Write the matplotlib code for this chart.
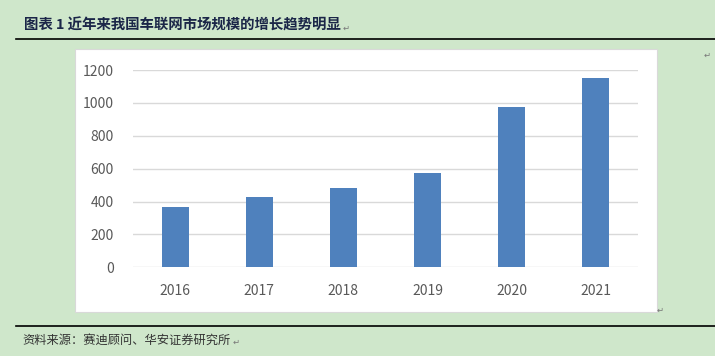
import matplotlib
matplotlib.use("Agg")
import matplotlib.pyplot as plt
from matplotlib.patches import Rectangle
from matplotlib.lines import Line2D

plt.rcParams['font.family'] = ['Noto Sans CJK SC', 'DejaVu Sans']

years = ['2016', '2017', '2018', '2019', '2020', '2021']
market_size = [368, 429, 484, 575, 977, 1153]
y_ticks = [0, 200, 400, 600, 800, 1000, 1200]
title_text = '图表 1 近年来我国车联网市场规模的增长趋势明显'
source_text = '资料来源：赛迪顾问、华安证券研究所'

W, H = 715, 356
fig = plt.figure(figsize=(W / 100, H / 100), dpi=100)
bg = '#CFE7CB'
fig.patch.set_facecolor(bg)

def fx(px):
    return px / W

def fy(py):
    return 1 - py / H

# white chart panel
fig.patches.append(Rectangle((fx(75), fy(312)), fx(657) - fx(75), fy(49) - fy(312),
                             transform=fig.transFigure, facecolor='white',
                             edgecolor='#D9D9D9', linewidth=0.8, zorder=-5))

# title and rules
t_title = fig.text(fx(24), fy(25), title_text, fontsize=10.4, fontweight='bold',
                   color='#1B2648', va='center', ha='left')
fig.lines.append(Line2D([fx(16), fx(715)], [fy(39), fy(39)], transform=fig.transFigure,
                        color='black', linewidth=1.2))
fig.lines.append(Line2D([fx(16), fx(715)], [fy(326), fy(326)], transform=fig.transFigure,
                        color='black', linewidth=1.2))
t_src = fig.text(fx(22), fy(340), source_text, fontsize=8.8, color='#333333',
                 va='center', ha='left')

# paragraph marks placed right after texts
renderer = fig.canvas.get_renderer()
for t, dy in [(t_title, 3), (t_src, 2)]:
    bb = t.get_window_extent(renderer)
    fig.text((bb.x1 + 2) / W, fy(dy + (25 if t is t_title else 340)), '↵',
             fontsize=6, color='#777777', va='center', ha='left', family='DejaVu Sans')
for (px, py) in [(fx(657), fy(310)), (fx(704), fy(55))]:
    fig.text(px, py, '↵', fontsize=6, color='#777777', va='center', ha='left',
             family='DejaVu Sans')

# axes
ax = fig.add_axes([fx(133), fy(267.3), fx(638) - fx(133), fy(70) - fy(267.3)])
ax.set_zorder(2)
ax.set_facecolor('none')
x = range(len(years))
ax.bar(x, market_size, width=0.32, color='#4F81BD', zorder=3)
ax.set_xlim(-0.5, len(years) - 0.5)
ax.set_ylim(0, 1200)
ax.set_yticks(y_ticks)
ax.set_yticklabels([str(v) for v in y_ticks])
ax.set_xticks(list(x))
ax.set_xticklabels(years)
ax.grid(axis='y', color='#D9D9D9', linewidth=1, zorder=0)
for s in ax.spines.values():
    s.set_visible(False)
ax.tick_params(axis='both', length=0, labelsize=10, labelcolor='#595959')
ax.tick_params(axis='y', pad=14)
ax.tick_params(axis='x', pad=12)

fig.savefig('out.png', dpi=100, facecolor=bg)
